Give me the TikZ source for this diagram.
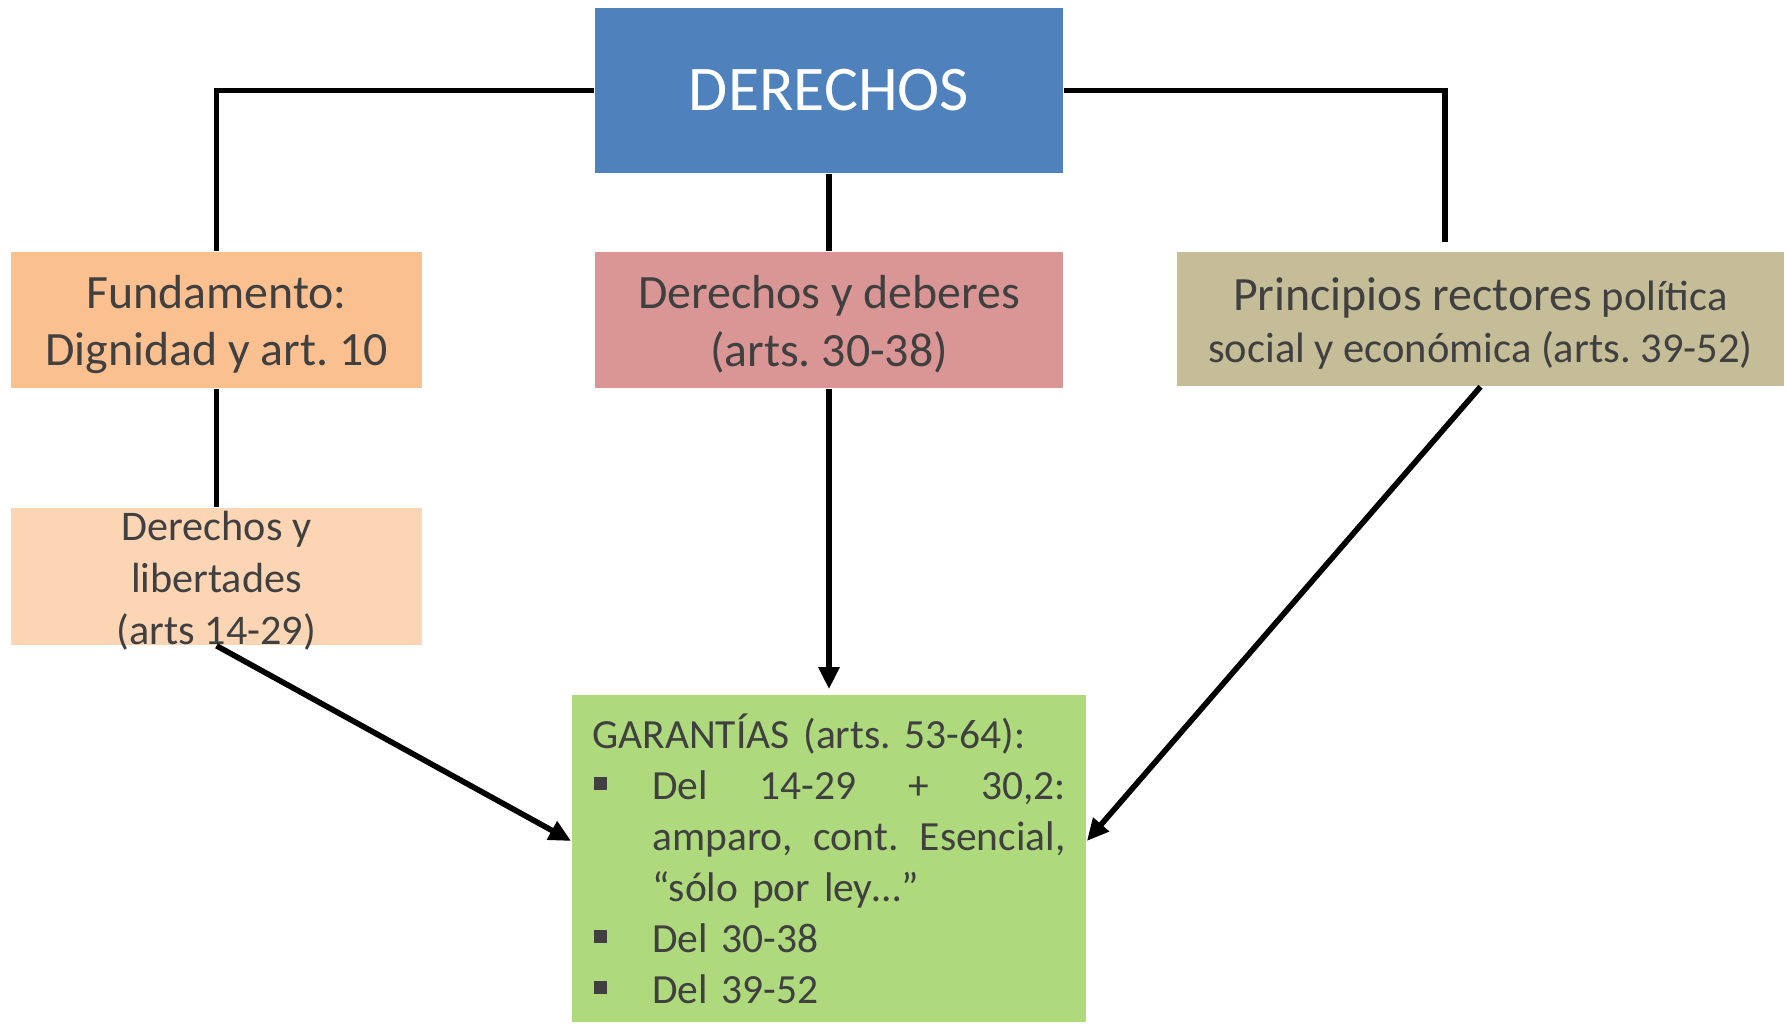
\documentclass[tikz,border=0pt]{standalone}
\usepackage{fontspec}
\setmainfont{Carlito}
\usepackage{tikz}
\usetikzlibrary{arrows.meta}
\frenchspacing
\definecolor{txtgray}{HTML}{404040}
\definecolor{derblue}{HTML}{4F81BD}
\definecolor{fundorange}{HTML}{FAC090}
\definecolor{librose}{HTML}{FCD5B5}
\definecolor{debred}{HTML}{D99694}
\definecolor{prinkhaki}{HTML}{C4BD97}
\definecolor{gargreen}{RGB}{174,217,124}
\newcommand{\garbul}{\makebox[0.6cm][l]{\hspace{0.02cm}\raisebox{0.09cm}{\rule{0.13cm}{0.13cm}}}}
\tikzset{
  box/.style={rectangle,inner sep=0pt,align=center,text=txtgray},
  conn/.style={line width=1.6pt},
  arr/.style={conn,-{Triangle[length=0.22cm,width=0.2cm]}}
}

\begin{document}
\begin{tikzpicture}[x=0.01cm,y=-0.01cm]
  \useasboundingbox (0,0) rectangle (1787,1023);

  \node[box,fill=derblue,text=white,minimum width=4.68cm,minimum height=1.65cm,
    font=\fontsize{18.1}{22}\selectfont] (der) at (829,90.5) {DERECHOS};
  \node[box,fill=fundorange,minimum width=4.11cm,minimum height=1.36cm,
    font=\fontsize{13.6}{16.4}\selectfont] (fund) at (216.5,320) {\rule{0pt}{0.42cm}Fundamento:\\Dignidad y art. 10};
  \node[box,fill=debred,minimum width=4.68cm,minimum height=1.36cm,
    font=\fontsize{13.6}{16.4}\selectfont] (deb) at (829,320) {\rule{0pt}{0.42cm}Derechos y deberes\\(arts. 30-38)};
  \node[box,fill=prinkhaki,minimum width=6.07cm,minimum height=1.34cm,
    font=\fontsize{12.1}{14.8}\selectfont] (prin) at (1480.5,319)
    {\rule{0pt}{0.42cm}{\fontsize{13.6}{14.8}\selectfont Principios rectores} política\\social y económica (arts. 39-52)};
  \node[box,fill=librose,minimum width=4.11cm,minimum height=1.37cm] (lib) at (216.5,576.5) {};
  \node[box,font=\fontsize{12}{14.8}\selectfont] (libtxt) at (216.5,581) {Derechos y\\libertades\\(arts 14-29)};
  \node[box,fill=gargreen,minimum width=5.14cm,minimum height=3.27cm,text width=4.73cm,
    align=left,font=\fontsize{11.8}{14.5}\selectfont] (gar) at (829,858.5)
    {GARANTÍAS (arts. 53-64):\\
     \garbul\makebox[4.13cm][l]{Del\hfill 14-29\hfill +\hfill 30,2:}\\
     \hspace*{0.6cm}\makebox[4.13cm][l]{amparo,\hfill cont.\hfill Esencial,}\\
     \hspace*{0.6cm}“sólo por ley…”\\
     \garbul Del 30-38\\
     \garbul Del 39-52};

  \coordinate (ptop) at (1445,242);

  % connectors
  \draw[conn] (der.west) -| (fund.north);
  \draw[conn] (der.east) -| (ptop);
  \draw[conn] (der.south) -- (deb.north);
  \draw[conn] (fund.south) -- (lib.north);
  \draw[arr,shorten >=0.05cm] (deb.south) -- (gar.north);
  \draw[arr] (lib.south) -- ([yshift=0.175cm]gar.west);
  \draw[arr] (prin.south) -- ([yshift=0.175cm]gar.east);
\end{tikzpicture}
\end{document}
